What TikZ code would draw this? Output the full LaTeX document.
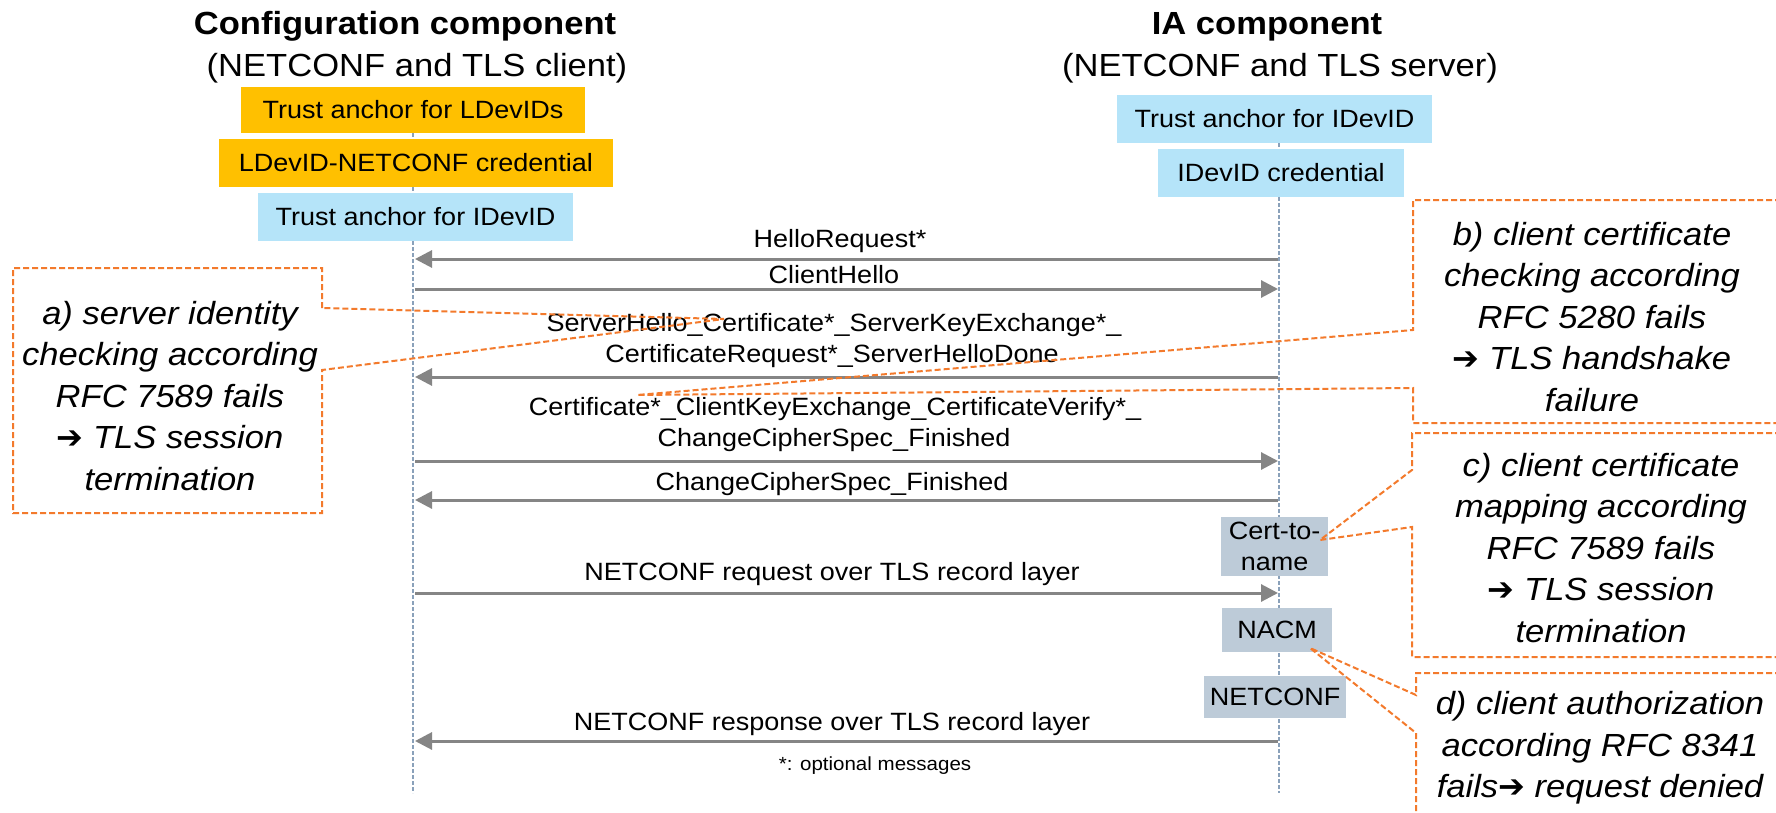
\documentclass[tikz,border=0pt]{standalone}
\usepackage{fontspec}
\setmainfont{Liberation Sans}[FakeStretch=1.08]
\newfontfamily\arrowfont{DejaVu Sans}
\usetikzlibrary{arrows.meta}

\definecolor{ancorange}{HTML}{FFC000}
\definecolor{ancblue}{HTML}{B5E4F9}
\definecolor{modgray}{HTML}{BDCBD8}
\definecolor{msggray}{HTML}{858585}
\definecolor{lifeblue}{HTML}{8AA1BA}
\definecolor{callorange}{HTML}{F37A2C}

\newcommand{\thenarrow}{{\arrowfont\bfseries\upshape ➔}}

\tikzset{
  credbox/.style={fill=#1, inner sep=0pt, font=\fontsize{25}{28}\selectfont},
  modbox/.style={fill=modgray, inner sep=0pt, align=center, font=\fontsize{25}{31}\selectfont},
  msg/.style={draw=msggray, line width=3pt, -{Triangle[length=17pt,width=17pt]}},
  msgtext/.style={inner sep=0pt, font=\fontsize{25}{28}\selectfont},
  notetext/.style={inner sep=0pt, font=\fontsize{19}{22}\selectfont},
  lifeline/.style={draw=lifeblue, line width=1.2pt, dash pattern=on 4pt off 2pt},
  callout/.style={draw=callorange, line width=2pt, dash pattern=on 6pt off 3pt},
  calltext/.style={align=center, inner sep=0pt, font=\fontsize{32}{41.5}\selectfont\itshape},
  headline/.style={inner sep=0pt, font=\fontsize{32}{36}\selectfont\bfseries},
  subline/.style={inner sep=0pt, font=\fontsize{32}{36}\selectfont}
}

\begin{document}
\begin{tikzpicture}[x=1pt, y=-1pt]
    \clip (0,0) rectangle (1776,813);
    \fill[white] (0,0) rectangle (1776,813);

    % lifelines
    \coordinate (cfgtop) at (413,133);
    \coordinate (cfgend) at (413,793);
    \coordinate (iatop) at (1279,143);
    \coordinate (iaend) at (1279,793);
    \draw[lifeline] (cfgtop) -- (cfgend);
    \draw[lifeline] (iatop) -- (iaend);

    % the two components
    \node[headline, anchor=base] (cfgtitle) at (405,35) {Configuration component};
    \node[subline, anchor=base] (cfgsub) at (417,77) {(NETCONF and TLS client)};
    \node[headline, anchor=base] (iatitle) at (1267,35) {IA component};
    \node[subline, anchor=base] (iasub) at (1280,77) {(NETCONF and TLS server)};

    \node[credbox=ancorange, minimum width=344, minimum height=46] (ldevta) at (413,110) {Trust anchor for LDevIDs};
    \node[credbox=ancorange, minimum width=394, minimum height=48] (ldevcred) at (416,163) {LDevID-NETCONF credential};
    \node[credbox=ancblue, minimum width=315, minimum height=48] (cfgidevta) at (415.5,217) {Trust anchor for IDevID};
    \node[credbox=ancblue, minimum width=315, minimum height=48] (iaidevta) at (1274.5,119) {Trust anchor for IDevID};
    \node[credbox=ancblue, minimum width=246, minimum height=48] (idevcred) at (1281,173) {IDevID credential};

    % messages
    \foreach \n/\y in {1/259, 2/289, 3/377, 4/461, 5/500, 6/593, 7/741}{
        \coordinate (cfg\n) at (415,\y);
        \coordinate (ia\n) at (1278,\y);
    }
    \draw[msg] (ia1) -- (cfg1);
    \draw[msg] (cfg2) -- (ia2);
    \draw[msg] (ia3) -- (cfg3);
    \draw[msg] (cfg4) -- (ia4);
    \draw[msg] (ia5) -- (cfg5);
    \draw[msg] (cfg6) -- (ia6);
    \draw[msg] (ia7) -- (cfg7);

    \node[msgtext, anchor=base] (hellorq) at (840,247) {HelloRequest*};
    \node[msgtext, anchor=base] (clihello) at (834,283) {ClientHello};
    \node[msgtext, anchor=base] (srvhelloa) at (834,331) {ServerHello\_Certificate*\_ServerKeyExchange*\_};
    \node[msgtext, anchor=base] (srvhellob) at (832,362) {CertificateRequest*\_ServerHelloDone};
    \node[msgtext, anchor=base] (clicerta) at (835,415) {Certificate*\_ClientKeyExchange\_CertificateVerify*\_};
    \node[msgtext, anchor=base] (clicertb) at (834,446) {ChangeCipherSpec\_Finished};
    \node[msgtext, anchor=base] (srvfin) at (832,490) {ChangeCipherSpec\_Finished};
    \node[msgtext, anchor=base] (ncreq) at (832,580) {NETCONF request over TLS record layer};
    \node[msgtext, anchor=base] (ncresp) at (832,730) {NETCONF response over TLS record layer};
    \node[notetext, anchor=base] (optnote) at (875,770) {*: optional messages};

    % IA modules
    \node[modbox, minimum width=107, minimum height=59] (certname) at (1274.5,546.5) {Cert-to-\\name};
    \node[modbox, minimum width=110, minimum height=44] (nacm) at (1277,630) {NACM};
    \node[modbox, minimum width=142, minimum height=42] (ncsrv) at (1275,697) {NETCONF};

    % failure callouts
    \coordinate (tipa) at (724,319);
    \draw[callout] (322,308) -- (322,268) -- (13,268) -- (13,513) -- (322,513) -- (322,370) -- (tipa) -- cycle;
    \node[calltext] (failsrv) at (170,396) {a) server identity\\checking according\\RFC 7589 fails\\\thenarrow{} TLS session\\termination};

    \coordinate (tipb) at (637,395);
    \draw[callout] (1790,200) -- (1413,200) -- (1413,330) -- (tipb) -- (1413,388) -- (1413,423) -- (1790,423);
    \node[calltext] (failcert) at (1592,317) {b) client certificate\\checking according\\RFC 5280 fails\\\thenarrow{} TLS handshake\\failure};

    \coordinate (tipc) at (1320,540);
    \draw[callout] (1790,433) -- (1412,433) -- (1412,470) -- (tipc) -- (1412,527) -- (1412,657) -- (1790,657);
    \node[calltext] (failmap) at (1601,548) {c) client certificate\\mapping according\\RFC 7589 fails\\\thenarrow{} TLS session\\termination};

    \coordinate (tipd) at (1310,648);
    \draw[callout] (1790,673) -- (1416,673) -- (1416,695) -- (tipd) -- (1416,733) -- (1416,830);
    \node[calltext] (failauth) at (1600,748) {d) client authorization\\according RFC 8341\\fails\thenarrow{} request denied};
\end{tikzpicture}
\end{document}
